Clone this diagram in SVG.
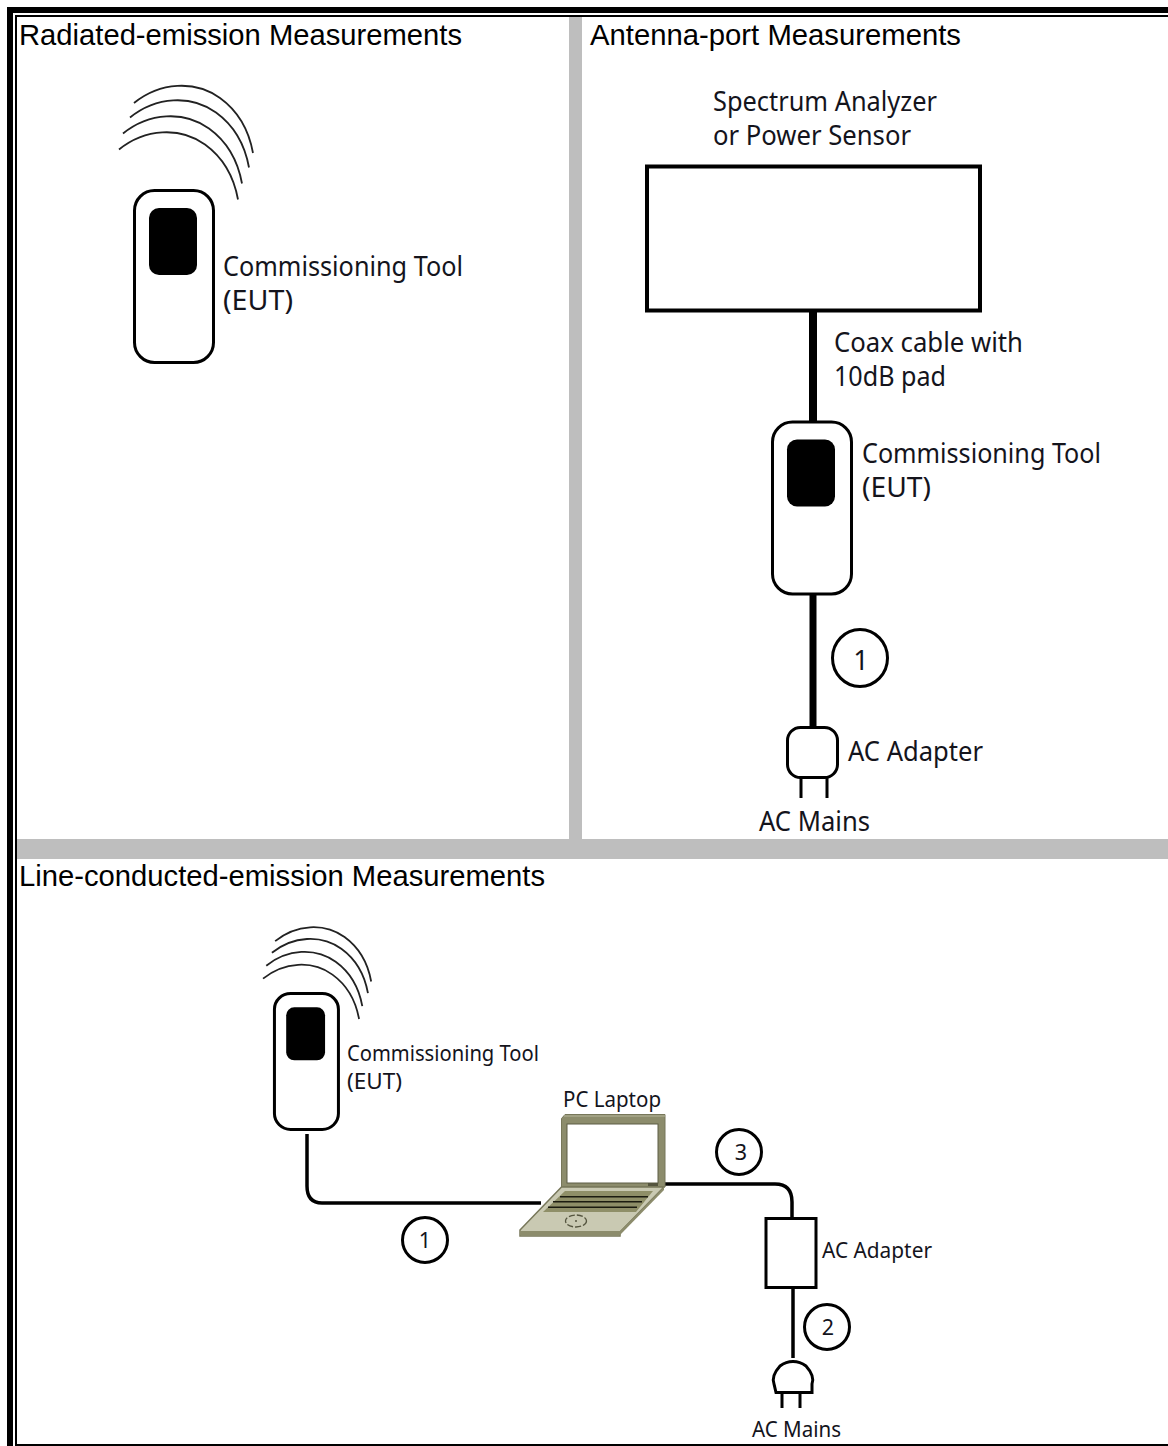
<svg xmlns="http://www.w3.org/2000/svg" width="1168" height="1446" viewBox="0 0 1168 1446">
<style>
.h{font-family:"Liberation Sans",Arial,sans-serif;font-size:29.33px;fill:#000}
.l{font-family:"Noto Sans","DejaVu Sans",sans-serif;font-size:27px;fill:#14141c}
.m{font-family:"Noto Sans","DejaVu Sans",sans-serif;font-size:21.5px;fill:#14141c}
.o{fill:none;stroke:#000;stroke-width:3;vector-effect:non-scaling-stroke}
.w{fill:#fff;stroke:#000;stroke-width:3;vector-effect:non-scaling-stroke}
.wv{fill:none;stroke:#222;stroke-width:1.8;vector-effect:non-scaling-stroke}
.s{fill:#000;stroke:none}
.c{fill:none;stroke:#000}
.n{text-anchor:middle}
</style>
<defs>
<path id="arc" class="wv" d="M134,103C160,82 195,80 220,98C238,111 249,131 253,153"/>
<g id="eut">
<rect class="w" x="134.500" y="190.500" width="79" height="172" rx="20" ry="20"/>
<rect class="s" x="149" y="208" width="48" height="67" rx="10" ry="10"/>
</g>
<g id="waves">
<use href="#arc"/>
<use href="#arc" transform="translate(-4 14.500)"/>
<use href="#arc" transform="translate(-11 30.500)"/>
<use href="#arc" transform="translate(-15 46.500)"/>
</g>
</defs>
<rect width="1168" height="1446" fill="#fff"/>
<g id="frame">
<rect x="7" y="7" width="1161" height="6" fill="#000"/>
<rect x="7" y="7" width="6" height="1439" fill="#000"/>
<rect x="15" y="15" width="1153" height="2" fill="#000"/>
<rect x="15" y="15" width="2" height="1431" fill="#000"/>
<rect x="15" y="1444" width="1153" height="2" fill="#000"/>
<rect x="569" y="17" width="13" height="822" fill="#bebebe"/>
<rect x="17" y="839" width="1151" height="20" fill="#bebebe"/>
</g>
<g id="connectors">
<path d="M813,312V421" fill="none" stroke="#000" stroke-width="8"/>
<path d="M813,594V726" fill="none" stroke="#000" stroke-width="7"/>
<path d="M307,1134V1186Q307,1203 322,1203H541" fill="none" stroke="#000" stroke-width="3.500"/>
<path d="M665,1184H775Q792,1184 792,1202V1217" fill="none" stroke="#000" stroke-width="3.500"/>
<path d="M793,1288V1358" fill="none" stroke="#000" stroke-width="3.500"/>
</g>
<g id="title-radiated"><text class="h" x="19" y="45" textLength="443" lengthAdjust="spacingAndGlyphs">Radiated-emission Measurements</text></g>
<g id="title-antenna"><text class="h" x="590" y="45" textLength="371" lengthAdjust="spacingAndGlyphs">Antenna-port Measurements</text></g>
<g id="title-line"><text class="h" x="19" y="886" textLength="526" lengthAdjust="spacingAndGlyphs">Line-conducted-emission Measurements</text></g>
<g id="eut-radiated">
<use href="#waves"/>
<use href="#eut"/>
<text class="l" x="223" y="276" textLength="240" lengthAdjust="spacingAndGlyphs">Commissioning Tool</text>
<text class="l" x="223" y="310" textLength="70" lengthAdjust="spacingAndGlyphs">(EUT)</text>
</g>
<g id="analyzer">
<rect x="647" y="166.500" width="333" height="144" fill="#fff" stroke="#000" stroke-width="4"/>
<text class="l" x="713" y="111" textLength="224" lengthAdjust="spacingAndGlyphs">Spectrum Analyzer</text>
<text class="l" x="713" y="145" textLength="198" lengthAdjust="spacingAndGlyphs">or Power Sensor</text>
</g>
<g id="coax-label">
<text class="l" x="834" y="352" textLength="189" lengthAdjust="spacingAndGlyphs">Coax cable with</text>
<text class="l" x="834" y="386" textLength="112" lengthAdjust="spacingAndGlyphs">10dB pad</text>
</g>
<g id="eut-antenna">
<use href="#eut" transform="translate(638 231.500)"/>
<text class="l" x="862" y="463" textLength="239" lengthAdjust="spacingAndGlyphs">Commissioning Tool</text>
<text class="l" x="862" y="497" textLength="69" lengthAdjust="spacingAndGlyphs">(EUT)</text>
</g>
<g id="badge-a1">
<ellipse class="c" stroke-width="3" cx="860" cy="658" rx="27.500" ry="28.500"/>
<text class="l n" x="861" y="670">1</text>
</g>
<g id="adapter-antenna">
<rect class="o" x="787.500" y="727.500" width="50" height="50" rx="13"/>
<path d="M801,778V798M827,778V798" fill="none" stroke="#000" stroke-width="3"/>
<text class="l" x="848" y="761" textLength="135" lengthAdjust="spacingAndGlyphs">AC Adapter</text>
<text class="l" x="759" y="831" textLength="111" lengthAdjust="spacingAndGlyphs">AC Mains</text>
</g>
<g id="eut-line">
<use href="#waves" transform="translate(167 858) scale(0.807 0.807)"/>
<use href="#eut" transform="translate(165.500 843) scale(0.81 0.79)"/>
<text class="m" x="347" y="1061" textLength="192" lengthAdjust="spacingAndGlyphs">Commissioning Tool</text>
<text class="m" x="347" y="1089" textLength="55" lengthAdjust="spacingAndGlyphs">(EUT)</text>
</g>
<g id="laptop">
<path d="M561.500,1187V1118.500L565,1114.500H665V1187Z" fill="#8c8c6c" stroke="#77775a" stroke-width="1"/>
<path d="M564,1116H665" stroke="#b5b59a" stroke-width="1" fill="none"/>
<rect x="567" y="1124" width="91" height="59" fill="#fff" stroke="#5c5c44" stroke-width="1"/>
<rect x="648" y="1183" width="10" height="3" fill="#55553f"/>
<path d="M520,1230L561.500,1187H664L620,1232V1236H520Z" fill="#c9c9b2" stroke="#77775a" stroke-width="1.500"/>
<path d="M520,1231H620V1235.500H520Z" fill="#8c8c6c"/>
<path d="M664,1187V1190L620,1235V1231Z" fill="#8c8c6c"/>
<path d="M565,1191H653L636,1212H543Z" fill="#8f8f68"/>
<path d="M560,1196.700H648M553,1201.700H642M548,1207.300H637" fill="none" stroke="#1c1c10" stroke-width="1.500"/>
<ellipse cx="576" cy="1221" rx="10.500" ry="6" fill="none" stroke="#55553f" stroke-width="1.300" stroke-dasharray="6 2"/>
<circle cx="576" cy="1221" r="1" fill="#55553f"/>
<text class="m" x="563" y="1107" textLength="98" lengthAdjust="spacingAndGlyphs">PC Laptop</text>
</g>
<g id="badge-l1">
<circle class="c" stroke-width="3" cx="425" cy="1240" r="22.500"/>
<text class="m n" x="425" y="1248">1</text>
</g>
<g id="badge-l3">
<circle class="c" stroke-width="3" cx="739" cy="1152" r="22.500"/>
<text class="m n" x="741" y="1160">3</text>
</g>
<g id="adapter-line">
<rect class="w" x="766" y="1218.500" width="50" height="69"/>
<text class="m" x="822" y="1258" textLength="110" lengthAdjust="spacingAndGlyphs">AC Adapter</text>
</g>
<g id="badge-l2">
<circle class="c" stroke-width="3" cx="827" cy="1327" r="22.500"/>
<text class="m n" x="828" y="1335">2</text>
</g>
<g id="plug-line">
<path class="o" d="M776,1392.500H812V1384Q815,1376 806,1366Q800,1361.500 793,1361.500Q786,1361.500 780,1366Q771,1376 774,1384Z"/>
<path d="M782,1393V1408M800,1393V1408" fill="none" stroke="#000" stroke-width="3"/>
<text class="m" x="752" y="1437" textLength="89" lengthAdjust="spacingAndGlyphs">AC Mains</text>
</g>
</svg>
